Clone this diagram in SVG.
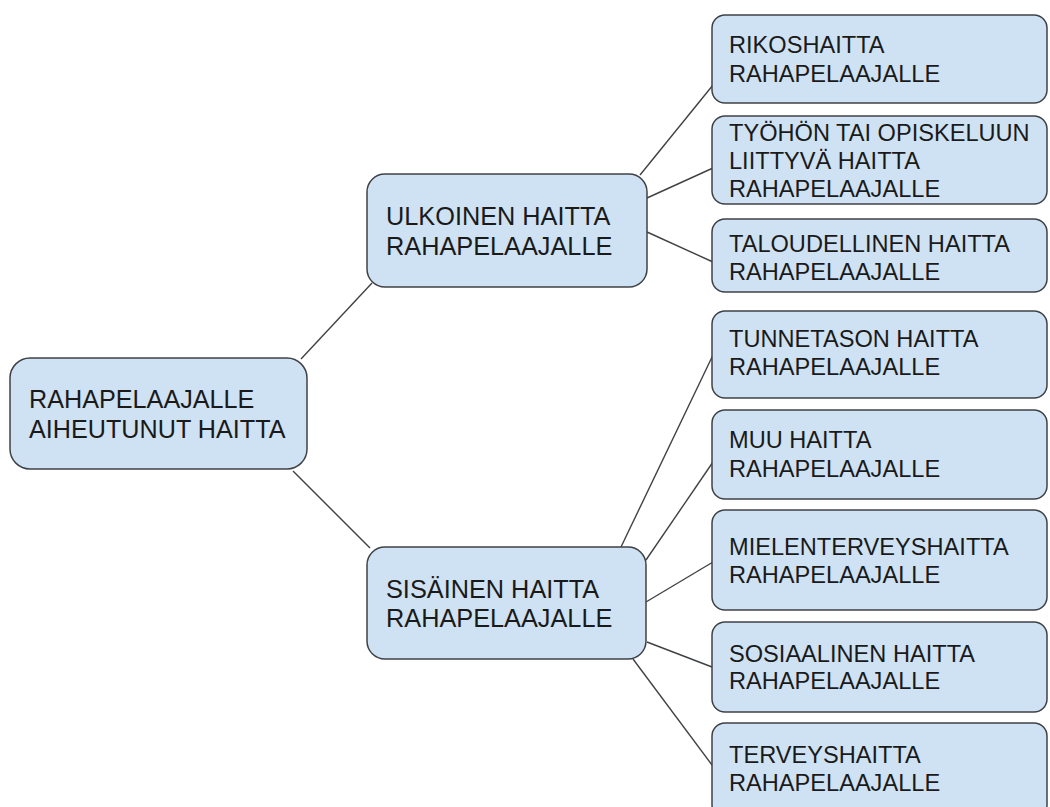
<svg xmlns="http://www.w3.org/2000/svg" width="1050" height="807" viewBox="0 0 1050 807">
<style>
.box{fill:#cfe2f3;stroke:#3f4245;stroke-width:1.5}
.t{font-family:"Liberation Sans",Arial,sans-serif;fill:#1a1a1a}
.t1{font-size:25.2px}
.t2{font-size:25.3px}
.t3{font-size:23.6px}
.c line{stroke:#3f4245;stroke-width:1.4}
</style>
<rect width="1050" height="807" fill="#ffffff"/>
<g id="connectors" class="c">
<line x1="301" y1="359" x2="372" y2="283"/>
<line x1="293" y1="471" x2="370" y2="548"/>
<line x1="640" y1="175" x2="713" y2="85"/>
<line x1="647" y1="198" x2="713" y2="168"/>
<line x1="647" y1="232" x2="713" y2="262"/>
<line x1="621" y1="547" x2="713" y2="355"/>
<line x1="646" y1="560" x2="713" y2="462"/>
<line x1="646" y1="602" x2="713" y2="562"/>
<line x1="647" y1="642" x2="712" y2="667"/>
<line x1="633" y1="659" x2="712" y2="765"/>
</g>
<g id="root">
<rect class="box" x="10" y="358" width="297" height="111" rx="20"/>
<text class="t t1" x="29" y="408">RAHAPELAAJALLE</text>
<text class="t t1" x="29" y="438">AIHEUTUNUT HAITTA</text>
</g>
<g id="ulkoinen">
<rect class="box" x="367" y="174" width="280" height="113" rx="18"/>
<text class="t t2" x="386" y="225">ULKOINEN HAITTA</text>
<text class="t t2" x="386" y="255">RAHAPELAAJALLE</text>
</g>
<g id="sisainen">
<rect class="box" x="367" y="547" width="279" height="112" rx="18"/>
<text class="t t2" x="386" y="598">SISÄINEN HAITTA</text>
<text class="t t2" x="386" y="627">RAHAPELAAJALLE</text>
</g>
<g id="rikos">
<rect class="box" x="712" y="15" width="335" height="88" rx="13"/>
<text class="t t3" x="729" y="53">RIKOSHAITTA</text>
<text class="t t3" x="729" y="82">RAHAPELAAJALLE</text>
</g>
<g id="tyo">
<rect class="box" x="712" y="116" width="335" height="88" rx="13"/>
<text class="t t3" x="729" y="141">TYÖHÖN TAI OPISKELUUN</text>
<text class="t t3" x="729" y="169">LIITTYVÄ HAITTA</text>
<text class="t t3" x="729" y="197">RAHAPELAAJALLE</text>
</g>
<g id="talous">
<rect class="box" x="712" y="219" width="335" height="73" rx="13"/>
<text class="t t3" x="729" y="252">TALOUDELLINEN HAITTA</text>
<text class="t t3" x="729" y="280">RAHAPELAAJALLE</text>
</g>
<g id="tunne">
<rect class="box" x="712" y="311" width="335" height="87" rx="13"/>
<text class="t t3" x="729" y="347">TUNNETASON HAITTA</text>
<text class="t t3" x="729" y="375">RAHAPELAAJALLE</text>
</g>
<g id="muu">
<rect class="box" x="712" y="410" width="335" height="89" rx="13"/>
<text class="t t3" x="729" y="448">MUU HAITTA</text>
<text class="t t3" x="729" y="477">RAHAPELAAJALLE</text>
</g>
<g id="mieli">
<rect class="box" x="712" y="510" width="335" height="100" rx="13"/>
<text class="t t3" x="729" y="555">MIELENTERVEYSHAITTA</text>
<text class="t t3" x="729" y="583">RAHAPELAAJALLE</text>
</g>
<g id="sosiaali">
<rect class="box" x="712" y="622" width="335" height="90" rx="13"/>
<text class="t t3" x="729" y="662">SOSIAALINEN HAITTA</text>
<text class="t t3" x="729" y="689">RAHAPELAAJALLE</text>
</g>
<g id="terveys">
<rect class="box" x="712" y="723" width="335" height="95" rx="13"/>
<text class="t t3" x="729" y="763">TERVEYSHAITTA</text>
<text class="t t3" x="729" y="791">RAHAPELAAJALLE</text>
</g>
</svg>
